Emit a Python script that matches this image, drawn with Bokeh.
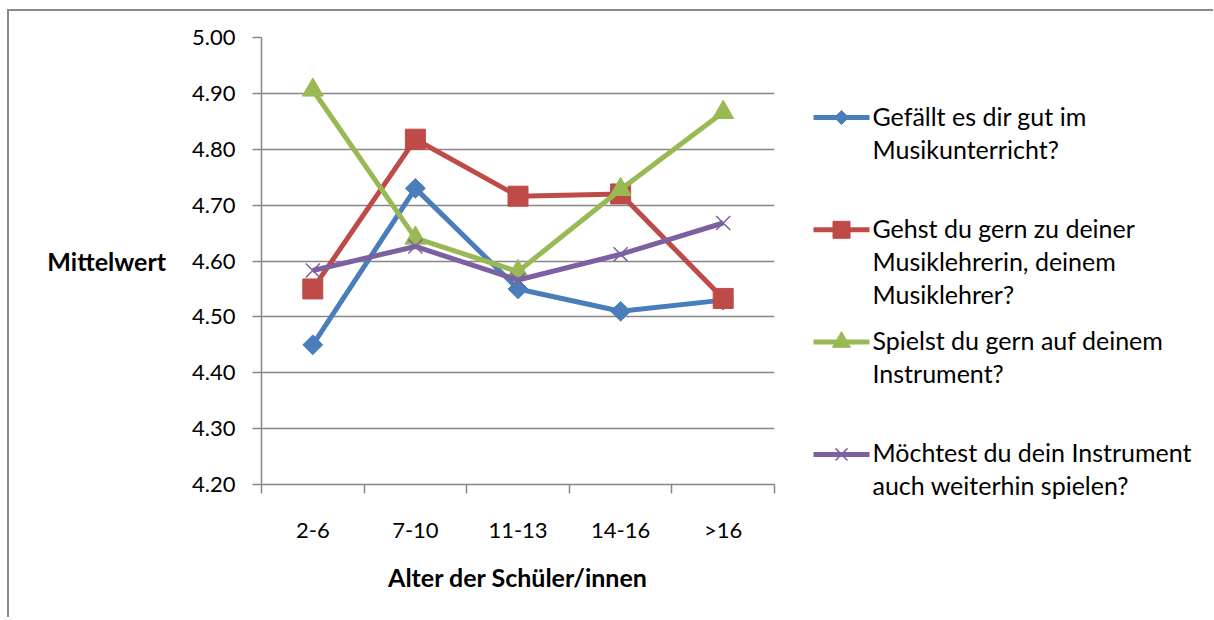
import math
from bokeh.plotting import figure
from bokeh.models import Range1d, FixedTicker
from bokeh.layouts import row
from bokeh.core.properties import value
from bokeh.embed import file_html
from bokeh.resources import INLINE

categories = ["2-6", "7-10", "11-13", "14-16", ">16"]
series_names = [
    "Gefällt es dir gut im\nMusikunterricht?",
    "Gehst du gern zu deiner\nMusiklehrerin, deinem\nMusiklehrer?",
    "Spielst du gern auf deinem\nInstrument?",
    "Möchtest du dein Instrument\nauch weiterhin spielen?",
]
gefaellt = [4.45, 4.73, 4.55, 4.51, 4.53]
lehrer = [4.55, 4.818, 4.716, 4.72, 4.533]
spielen = [4.906, 4.641, 4.581, 4.728, 4.866]
weiter = [4.583, 4.626, 4.566, 4.612, 4.668]
y_ticks = [4.2, 4.3, 4.4, 4.5, 4.6, 4.7, 4.8, 4.9, 5.0]

FONT = "Lato"
GRID = "#878787"
colors = ["#4A7EBB", "#BE4B48", "#98B954", "#7D60A0"]
markers = ["square", "square", "triangle", "x"]
angles = [math.pi / 4, 0, 0, 0]
msizes = [14, 20, 21, 20]
leg_msizes = [10, 17, 18, 17]
data = [gefaellt, lehrer, spielen, weiter]

xs = [i + 0.5 for i in range(len(categories))]

H = 606
p = figure(width=770, height=H, output_backend="svg", toolbar_location=None,
           x_range=Range1d(0, len(categories)), y_range=Range1d(4.2, 5.0),
           min_border_left=252, min_border_right=5, min_border_top=26,
           min_border_bottom=133, outline_line_color=None)

# y axis
p.yaxis.ticker = FixedTicker(ticks=y_ticks)
p.yaxis.major_label_overrides = {t: f"{t:.2f}" for t in y_ticks}
p.yaxis.axis_line_color = GRID
p.yaxis.axis_line_width = 1.5
p.yaxis.major_tick_line_color = GRID
p.yaxis.major_tick_line_width = 1.5
p.yaxis.major_tick_in = 0
p.yaxis.major_tick_out = 9
p.yaxis.minor_tick_line_color = None
p.yaxis.major_label_standoff = 17
p.yaxis.major_label_text_font = FONT
p.yaxis.major_label_text_font_size = "22px"
p.yaxis.major_label_text_color = "#000000"
p.yaxis.axis_label = "Mittelwert"
p.yaxis.axis_label_text_font = FONT
p.yaxis.axis_label_text_font_style = "bold"
p.yaxis.axis_label_text_font_size = "25px"
p.yaxis.axis_label_text_color = "#000000"
p.yaxis.axis_label_standoff = 23
if "axis_label_orientation" in p.yaxis[0].properties():
    p.yaxis.axis_label_orientation = "horizontal"

# x axis
p.xaxis.ticker = FixedTicker(ticks=xs, minor_ticks=list(range(len(categories) + 1)))
p.xaxis.major_label_overrides = {x: c for x, c in zip(xs, categories)}
p.xaxis.axis_line_color = GRID
p.xaxis.axis_line_width = 1.5
p.xaxis.major_tick_line_color = None
p.xaxis.major_tick_out = 0
p.xaxis.major_tick_in = 0
p.xaxis.minor_tick_line_color = GRID
p.xaxis.minor_tick_line_width = 1.5
p.xaxis.minor_tick_in = 0
p.xaxis.minor_tick_out = 9
p.xaxis.major_label_standoff = 22
p.xaxis.major_label_text_font = FONT
p.xaxis.major_label_text_font_size = "22px"
p.xaxis.major_label_text_color = "#000000"
p.xaxis.axis_label = "Alter der Schüler/innen"
p.xaxis.axis_label_text_font = FONT
p.xaxis.axis_label_text_font_style = "bold"
p.xaxis.axis_label_text_font_size = "25px"
p.xaxis.axis_label_standoff = 16
p.xaxis.axis_label_text_color = "#000000"

p.xgrid.grid_line_color = None
p.ygrid.ticker = FixedTicker(ticks=y_ticks)
p.ygrid.grid_line_color = GRID
p.ygrid.grid_line_width = 1.5

for i, (vals, col) in enumerate(zip(data, colors)):
    p.line(xs, vals, line_color=col, line_width=5)
    if markers[i] == "x":
        p.scatter(xs, vals, marker="x", size=msizes[i], line_color=col, line_width=1.5)
    else:
        p.scatter(xs, vals, marker=markers[i], size=msizes[i], angle=angles[i],
                  fill_color=col, line_color=col)

# legend panel (pixel-like coordinates, y from top)
LW = 434
lg = figure(width=LW, height=H, output_backend="svg", toolbar_location=None,
            x_range=Range1d(0, LW), y_range=Range1d(H, 0),
            min_border=0, outline_line_color=None)
lg.axis.visible = False
lg.grid.visible = False
if "frame_align" in lg.properties():
    lg.frame_align = False
    p.frame_align = False

item_top = 106
item_step = 112.3
for i, (col, name) in enumerate(zip(colors, series_names)):
    yy = item_top + i * item_step
    lg.line([34, 90], [yy, yy], line_color=col, line_width=5)
    if markers[i] == "x":
        lg.scatter([62], [yy], marker="x", size=leg_msizes[i], line_color=col, line_width=1.5)
    else:
        lg.scatter([62], [yy], marker=markers[i], size=leg_msizes[i], angle=angles[i],
                   fill_color=col, line_color=col)
    lg.text([93], [yy - 17], text=[name], text_font=value(FONT), text_font_size="25px",
            text_line_height=1.1, text_baseline="top", text_align="left",
            text_color="#000000")

layout = row(p, lg)
layout.styles = {"border-left": "2px solid #8a8a8a", "border-top": "2px solid #8a8a8a",
                 "margin-left": "7px", "margin-top": "9px"}

open("out.html", "w").write(file_html(layout, INLINE))
